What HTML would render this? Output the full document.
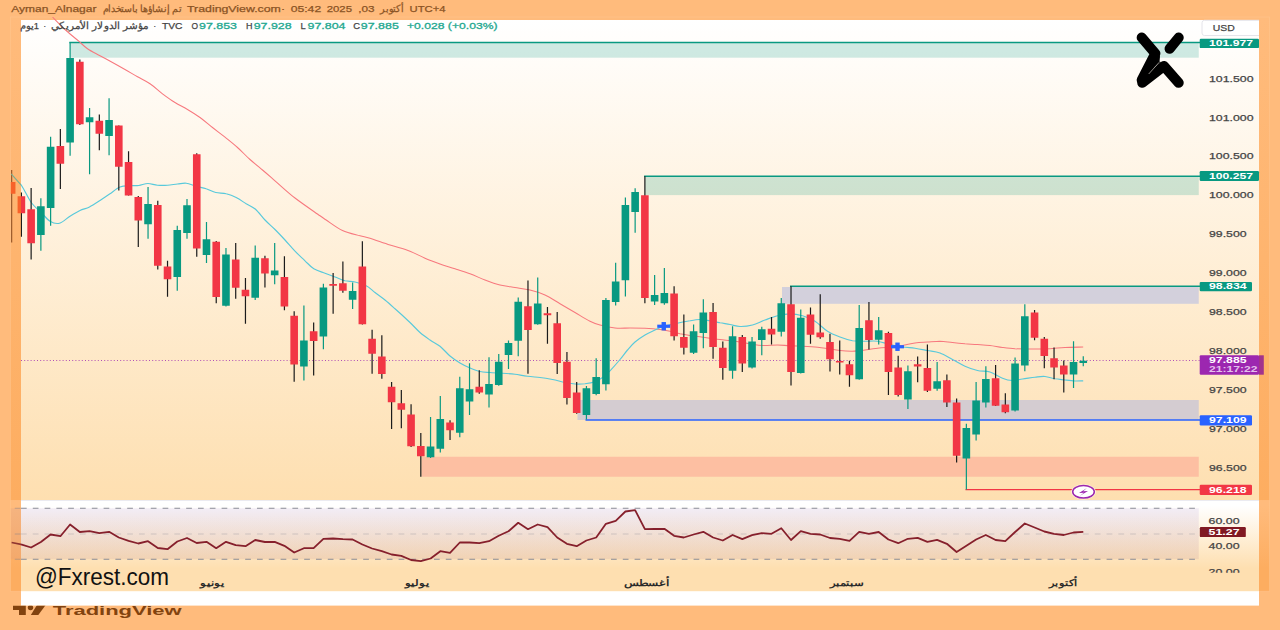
<!DOCTYPE html>
<html lang="ar"><head><meta charset="utf-8"><title>DXY chart</title>
<style>
html,body{margin:0;padding:0}
body{width:1280px;height:630px;overflow:hidden;background:#FFBB7C;position:relative;font-family:"Liberation Sans",sans-serif}
svg{position:absolute;left:0;top:0;display:block}
text{font-family:"Liberation Sans",sans-serif}
.ax{font-size:9px;fill:#454545;stroke:#454545;stroke-width:0.25px}
.lb{font-size:9px;fill:#fff;font-weight:bold}
.hd{font-size:9.5px;fill:#8a5324;stroke:#8a5324;stroke-width:0.25px}
.lg{font-size:9.5px;fill:#454545;stroke:#454545;stroke-width:0.25px}
.tl{font-size:9.5px;fill:#1fa890;stroke:#1fa890;stroke-width:0.3px}
.mo{font-size:9px;fill:#2a2a2a;font-weight:bold}
</style></head><body>
<svg width="1280" height="630" viewBox="0 0 1280 630">
<defs>
<linearGradient id="gs" x1="0" y1="0" x2="0" y2="1"><stop offset="0" stop-color="#FFBB7C"/><stop offset="1" stop-color="#FDAD60"/></linearGradient>
<linearGradient id="gs2" x1="0" y1="0" x2="0" y2="1"><stop offset="0" stop-color="#FFBB7C"/><stop offset="0.06" stop-color="#FFBB7C"/><stop offset="0.75" stop-color="#FDAD60"/><stop offset="1" stop-color="#FDAD60"/></linearGradient>
<linearGradient id="g1" x1="0" y1="0" x2="0" y2="1"><stop offset="0" stop-color="#FFFFFF"/><stop offset="1" stop-color="#FEDFB0"/></linearGradient>
<linearGradient id="g2" x1="0" y1="0" x2="0" y2="1"><stop offset="0" stop-color="#FFFFFF"/><stop offset="0.06" stop-color="#FFFFFF"/><stop offset="0.75" stop-color="#FEDFB0"/><stop offset="1" stop-color="#FEDFB0"/></linearGradient>
<linearGradient id="gb" x1="0" y1="0" x2="0" y2="1"><stop offset="0" stop-color="#7E57C2" stop-opacity="0.10"/><stop offset="1" stop-color="#B07A8A" stop-opacity="0.16"/></linearGradient>
<clipPath id="cw"><rect x="21" y="17" width="1238" height="574.2"/></clipPath>
<clipPath id="cl"><rect x="10.8" y="17" width="10.2" height="574.2"/></clipPath>
<clipPath id="cb"><rect x="0" y="605.7" width="300" height="24"/></clipPath>
<clipPath id="cr"><rect x="1208" y="500" width="51" height="72.7"/></clipPath>
</defs>

<rect x="10.5" y="17" width="1259" height="483.2" fill="url(#gs)"/>
<rect x="10.5" y="500.2" width="1259" height="91" fill="url(#gs2)"/>
<rect x="10.5" y="17" width="1259" height="574.2" fill="none" stroke="#ffd2a4" stroke-opacity="0.35" stroke-width="0.8"/>
<rect x="21" y="20" width="1238" height="585.6" fill="#fff"/>
<rect x="21" y="20" width="1238" height="480.2" fill="url(#g1)"/>
<rect x="21" y="500.2" width="1238" height="91" fill="url(#g2)"/>
<rect x="21" y="500" width="1238" height="0.8" fill="#e6e6ee"/>
<rect x="70.1" y="42.5" width="1128.65" height="15.2" fill="#089981" fill-opacity="0.2"/>
<rect x="644.878" y="176.2" width="553.872" height="18.9" fill="#089981" fill-opacity="0.2"/>
<rect x="782" y="287" width="416.75" height="16.8" fill="#D3D0DC"/>
<rect x="577.5" y="400" width="621.25" height="20" fill="#D4CCD1"/>
<rect x="421.5" y="456.75" width="777.25" height="20" fill="#FDBFA2"/>
<line x1="69.3" y1="42.5" x2="1200" y2="42.5" stroke="#089981" stroke-width="1.5"/>
<line x1="644.0780000000001" y1="176.2" x2="1200" y2="176.2" stroke="#089981" stroke-width="1.5"/>
<line x1="790" y1="286.3" x2="1200" y2="286.3" stroke="#089981" stroke-width="1.5"/>
<line x1="585.5" y1="420" x2="1200" y2="420" stroke="#2962FF" stroke-width="1.45"/>
<line x1="965.5" y1="489.6" x2="1200" y2="489.6" stroke="#F23645" stroke-width="1.3"/>
<line x1="21" y1="360.5" x2="1200" y2="360.5" stroke="#9C27B0" stroke-width="1" stroke-dasharray="1 2.2" stroke-opacity="0.8"/>
<g clip-path="url(#cw)" fill="none" stroke-linejoin="round">
<path d="M52.5,17.0 C54.7,19.2 61.1,26.0 65.5,30.0 C69.9,34.0 75.1,38.1 78.8,41.2 C82.4,44.4 84.0,46.3 87.5,48.8 C91.0,51.2 95.8,53.5 100.0,55.8 C104.2,58.0 108.3,60.2 112.5,62.5 C116.7,64.8 120.8,67.1 125.0,69.5 C129.2,71.9 133.3,74.4 137.5,76.8 C141.7,79.1 145.8,80.9 150.0,83.8 C154.2,86.6 158.3,90.6 162.5,93.8 C166.7,96.9 170.8,99.9 175.0,102.5 C179.2,105.1 183.3,107.0 187.5,109.5 C191.7,112.0 195.8,114.5 200.0,117.5 C204.2,120.5 208.3,124.2 212.5,127.5 C216.7,130.8 220.8,133.9 225.0,137.2 C229.2,140.6 233.3,143.8 237.5,147.5 C241.7,151.2 245.8,155.8 250.0,159.5 C254.2,163.2 258.3,166.5 262.5,170.0 C266.7,173.5 269.6,176.1 275.0,180.8 C280.4,185.4 287.5,192.2 295.0,198.0 C302.5,203.8 314.8,212.1 320.0,215.8 C325.2,219.4 322.5,217.5 326.2,220.0 C330.0,222.5 336.9,227.9 342.5,230.5 C348.1,233.1 355.4,234.5 360.0,235.8 C364.6,237.0 365.0,236.7 370.0,238.2 C375.0,239.8 383.3,242.8 390.0,245.0 C396.7,247.2 404.2,249.0 410.0,251.2 C415.8,253.5 420.0,256.1 425.0,258.2 C430.0,260.4 435.0,262.2 440.0,264.0 C445.0,265.8 450.0,267.1 455.0,268.8 C460.0,270.4 465.0,271.9 470.0,273.8 C475.0,275.6 480.0,278.1 485.0,280.0 C490.0,281.9 495.0,283.8 500.0,285.0 C505.0,286.2 510.0,286.7 515.0,287.5 C520.0,288.3 525.0,288.8 530.0,290.0 C535.0,291.2 540.0,292.7 545.0,295.0 C550.0,297.3 555.0,300.8 560.0,303.8 C565.0,306.7 570.0,309.6 575.0,312.5 C580.0,315.4 585.8,319.2 590.0,321.2 C594.2,323.3 595.8,323.9 600.0,325.0 C604.2,326.1 610.0,327.5 615.0,328.0 C620.0,328.5 625.0,328.0 630.0,328.0 C635.0,328.0 640.0,328.0 645.0,328.2 C650.0,328.5 655.8,329.0 660.0,329.5 C664.2,330.0 666.7,330.5 670.0,331.2 C673.3,332.0 676.7,333.0 680.0,333.8 C683.3,334.5 685.8,334.9 690.0,335.5 C694.2,336.1 700.0,336.8 705.0,337.5 C710.0,338.2 715.0,338.9 720.0,339.5 C725.0,340.1 730.0,340.5 735.0,341.2 C740.0,342.0 745.4,343.0 750.0,343.8 C754.6,344.5 757.9,345.3 762.5,345.5 C767.1,345.7 772.9,345.0 777.5,345.0 C782.1,345.0 783.8,345.4 790.0,345.8 C796.2,346.1 806.7,346.2 815.0,347.0 C823.3,347.8 833.8,349.8 840.0,350.5 C846.2,351.2 848.3,351.3 852.5,351.2 C856.7,351.2 860.8,350.5 865.0,350.0 C869.2,349.5 873.3,348.8 877.5,348.2 C881.7,347.8 885.8,347.5 890.0,347.0 C894.2,346.5 898.3,346.2 902.5,345.5 C906.7,344.8 910.8,343.6 915.0,343.0 C919.2,342.4 923.3,342.3 927.5,342.0 C931.7,341.7 935.8,341.2 940.0,341.2 C944.2,341.3 948.3,342.1 952.5,342.5 C956.7,342.9 960.8,343.4 965.0,343.8 C969.2,344.1 973.3,344.2 977.5,344.5 C981.7,344.8 985.8,345.0 990.0,345.5 C994.2,346.0 998.3,347.0 1002.5,347.5 C1006.7,348.0 1010.8,348.5 1015.0,348.8 C1019.2,349.0 1023.3,349.0 1027.5,349.0 C1031.7,349.0 1035.8,349.1 1040.0,349.0 C1044.2,348.9 1048.3,348.8 1052.5,348.5 C1056.7,348.2 1059.9,347.8 1065.0,347.5 C1070.1,347.2 1080.2,347.1 1083.2,347.0" stroke="#F7787E" stroke-width="1.05"/>
<path d="M11.2,173.8 C12.9,175.6 17.9,180.2 21.2,185.0 C24.6,189.8 27.9,197.9 31.2,202.5 C34.6,207.1 38.1,209.4 41.2,212.5 C44.4,215.6 47.0,219.5 50.0,221.2 C53.0,223.0 56.2,224.1 59.5,223.2 C62.8,222.4 66.6,218.4 70.0,216.2 C73.4,214.1 76.8,212.0 80.0,210.5 C83.2,209.0 86.2,208.7 89.5,207.0 C92.8,205.3 96.6,202.7 100.0,200.5 C103.4,198.3 106.7,196.0 110.0,193.8 C113.3,191.5 116.7,188.3 120.0,187.0 C123.3,185.7 126.9,186.0 130.0,185.8 C133.1,185.5 135.8,185.9 138.8,185.5 C141.8,185.1 144.9,183.5 148.0,183.5 C151.1,183.5 154.2,185.0 157.5,185.2 C160.8,185.5 164.2,185.5 167.5,185.2 C170.8,185.0 174.4,184.3 177.5,184.0 C180.6,183.7 183.1,182.9 186.2,183.2 C189.4,183.6 192.9,185.3 196.2,186.2 C199.6,187.2 203.0,187.7 206.2,188.8 C209.5,189.8 212.4,191.7 215.8,192.5 C219.1,193.3 222.8,192.9 226.2,193.8 C229.7,194.6 232.9,195.8 236.2,197.5 C239.6,199.2 243.0,201.8 246.2,203.8 C249.5,205.7 252.4,206.5 255.5,209.2 C258.6,212.0 261.8,216.6 265.0,220.0 C268.2,223.4 271.7,226.2 275.0,229.5 C278.3,232.8 281.7,236.4 285.0,240.0 C288.3,243.6 291.7,247.8 295.0,251.2 C298.3,254.7 301.9,257.8 305.0,260.8 C308.1,263.7 310.4,266.7 313.8,268.8 C317.1,270.8 321.5,271.9 325.0,273.2 C328.5,274.6 331.7,275.8 335.0,277.0 C338.3,278.2 341.7,279.9 345.0,280.8 C348.3,281.6 351.5,281.2 355.0,282.0 C358.5,282.8 362.9,284.0 366.2,285.8 C369.6,287.5 371.9,290.1 375.0,292.5 C378.1,294.9 381.7,297.3 385.0,300.0 C388.3,302.7 390.8,305.0 395.0,308.8 C399.2,312.5 405.8,318.5 410.0,322.5 C414.2,326.5 416.7,329.6 420.0,332.5 C423.3,335.4 426.7,337.7 430.0,340.0 C433.3,342.3 436.7,343.6 440.0,346.2 C443.3,348.9 446.7,353.2 450.0,356.0 C453.3,358.8 456.7,361.0 460.0,363.0 C463.3,365.0 466.7,366.6 470.0,368.0 C473.3,369.4 476.7,370.8 480.0,371.5 C483.3,372.2 486.2,372.2 490.0,372.5 C493.8,372.8 498.3,373.0 502.5,373.2 C506.7,373.5 510.8,373.8 515.0,374.2 C519.2,374.8 523.3,375.7 527.5,376.2 C531.7,376.8 535.8,377.0 540.0,377.5 C544.2,378.0 548.3,378.7 552.5,379.5 C556.7,380.3 561.2,381.8 565.0,382.5 C568.8,383.2 571.7,383.8 575.0,384.0 C578.3,384.2 581.7,384.1 585.0,383.8 C588.3,383.4 592.1,382.8 595.0,381.8 C597.9,380.7 600.0,379.3 602.5,377.5 C605.0,375.7 607.1,373.8 610.0,370.8 C612.9,367.8 617.1,363.0 620.0,359.5 C622.9,356.0 625.0,352.9 627.5,350.0 C630.0,347.1 632.1,344.5 635.0,342.0 C637.9,339.5 641.7,337.0 645.0,335.0 C648.3,333.0 651.9,331.5 655.0,330.0 C658.1,328.5 660.4,327.3 663.8,326.2 C667.1,325.2 670.6,324.7 675.0,323.8 C679.4,322.8 685.8,321.5 690.0,320.8 C694.2,320.0 696.7,319.5 700.0,319.5 C703.3,319.5 706.7,320.2 710.0,320.8 C713.3,321.3 716.7,322.1 720.0,322.8 C723.3,323.4 726.7,323.9 730.0,324.5 C733.3,325.1 736.2,326.4 740.0,326.5 C743.8,326.6 748.3,326.1 752.5,325.0 C756.7,323.9 760.8,321.5 765.0,320.0 C769.2,318.5 773.3,316.8 777.5,315.8 C781.7,314.7 785.8,313.8 790.0,313.8 C794.2,313.8 798.3,314.5 802.5,315.8 C806.7,317.0 810.8,318.7 815.0,321.2 C819.2,323.8 823.3,328.6 827.5,331.2 C831.7,333.9 835.8,335.4 840.0,337.0 C844.2,338.6 848.3,340.0 852.5,340.8 C856.7,341.5 860.8,341.2 865.0,341.2 C869.2,341.3 873.3,340.7 877.5,341.2 C881.7,341.8 885.8,343.5 890.0,344.5 C894.2,345.5 898.3,346.4 902.5,347.0 C906.7,347.6 910.8,347.7 915.0,348.2 C919.2,348.8 923.3,349.7 927.5,350.5 C931.7,351.3 935.8,351.5 940.0,353.0 C944.2,354.5 948.3,357.3 952.5,359.5 C956.7,361.7 960.8,364.4 965.0,366.2 C969.2,368.1 973.3,369.5 977.5,370.5 C981.7,371.5 985.8,370.7 990.0,372.0 C994.2,373.3 998.8,376.8 1002.5,378.2 C1006.2,379.7 1009.2,380.4 1012.5,380.5 C1015.8,380.6 1018.8,379.5 1022.5,379.0 C1026.2,378.5 1031.2,377.7 1035.0,377.2 C1038.8,376.8 1041.7,376.2 1045.0,376.5 C1048.3,376.8 1051.7,378.2 1055.0,378.8 C1058.3,379.3 1061.7,379.6 1065.0,380.0 C1068.3,380.4 1072.0,380.9 1075.0,381.0 C1078.0,381.1 1081.9,380.8 1083.2,380.8" stroke="#58C9DB" stroke-width="1.15"/>
<rect x="11.05" y="170" width="1.2" height="72.50" fill="#1b1b1b"/>
<rect x="7.85" y="182" width="7.6" height="11.75" fill="#F23645"/>
<rect x="20.79" y="192.5" width="1.2" height="44.25" fill="#1b1b1b"/>
<rect x="17.59" y="196.25" width="7.6" height="17.00" fill="#F23645"/>
<rect x="30.53" y="188" width="1.2" height="71.50" fill="#1b1b1b"/>
<rect x="27.33" y="209.25" width="7.6" height="34.00" fill="#F23645"/>
<rect x="40.27" y="198.25" width="1.2" height="52.50" fill="#089981"/>
<rect x="37.07" y="206.25" width="7.6" height="28.75" fill="#089981"/>
<rect x="50.02" y="136.75" width="1.2" height="89.00" fill="#089981"/>
<rect x="46.82" y="146.75" width="7.6" height="61.25" fill="#089981"/>
<rect x="59.76" y="129" width="1.2" height="60.00" fill="#1b1b1b"/>
<rect x="56.56" y="146" width="7.6" height="17.75" fill="#F23645"/>
<rect x="69.50" y="42.5" width="1.2" height="113.25" fill="#089981"/>
<rect x="66.30" y="58" width="7.6" height="84.50" fill="#089981"/>
<rect x="79.24" y="59.5" width="1.2" height="65.50" fill="#1b1b1b"/>
<rect x="76.04" y="61.75" width="7.6" height="62.50" fill="#F23645"/>
<rect x="88.98" y="108" width="1.2" height="66.25" fill="#089981"/>
<rect x="85.78" y="117.25" width="7.6" height="5.00" fill="#089981"/>
<rect x="98.73" y="114.5" width="1.2" height="35.75" fill="#1b1b1b"/>
<rect x="95.53" y="120.75" width="7.6" height="13.00" fill="#F23645"/>
<rect x="108.47" y="98.25" width="1.2" height="57.00" fill="#089981"/>
<rect x="105.27" y="120" width="7.6" height="16.00" fill="#089981"/>
<rect x="118.21" y="125.5" width="1.2" height="65.00" fill="#1b1b1b"/>
<rect x="115.01" y="125.5" width="7.6" height="41.25" fill="#F23645"/>
<rect x="127.95" y="151.25" width="1.2" height="44.25" fill="#1b1b1b"/>
<rect x="124.75" y="162" width="7.6" height="33.50" fill="#F23645"/>
<rect x="137.69" y="196" width="1.2" height="51.00" fill="#1b1b1b"/>
<rect x="134.49" y="197" width="7.6" height="23.50" fill="#F23645"/>
<rect x="147.44" y="187" width="1.2" height="51.75" fill="#089981"/>
<rect x="144.24" y="204" width="7.6" height="20.25" fill="#089981"/>
<rect x="157.18" y="200.75" width="1.2" height="68.75" fill="#1b1b1b"/>
<rect x="153.98" y="205" width="7.6" height="60.75" fill="#F23645"/>
<rect x="166.92" y="260.75" width="1.2" height="36.00" fill="#1b1b1b"/>
<rect x="163.72" y="266.5" width="7.6" height="12.75" fill="#F23645"/>
<rect x="176.66" y="225.75" width="1.2" height="65.00" fill="#089981"/>
<rect x="173.46" y="230" width="7.6" height="47.00" fill="#089981"/>
<rect x="186.40" y="199" width="1.2" height="39.75" fill="#089981"/>
<rect x="183.20" y="205.25" width="7.6" height="27.75" fill="#089981"/>
<rect x="196.15" y="153.25" width="1.2" height="103.50" fill="#1b1b1b"/>
<rect x="192.95" y="154.25" width="7.6" height="94.25" fill="#F23645"/>
<rect x="205.89" y="222" width="1.2" height="41.00" fill="#089981"/>
<rect x="202.69" y="239.25" width="7.6" height="15.75" fill="#089981"/>
<rect x="215.63" y="241" width="1.2" height="62.25" fill="#1b1b1b"/>
<rect x="212.43" y="241.75" width="7.6" height="55.25" fill="#F23645"/>
<rect x="225.37" y="248" width="1.2" height="58.50" fill="#089981"/>
<rect x="222.17" y="254.5" width="7.6" height="51.25" fill="#089981"/>
<rect x="235.11" y="243" width="1.2" height="55.75" fill="#1b1b1b"/>
<rect x="231.91" y="259.5" width="7.6" height="28.25" fill="#F23645"/>
<rect x="244.86" y="278" width="1.2" height="45.75" fill="#1b1b1b"/>
<rect x="241.66" y="289.75" width="7.6" height="6.50" fill="#F23645"/>
<rect x="254.60" y="245.5" width="1.2" height="54.50" fill="#089981"/>
<rect x="251.40" y="257.75" width="7.6" height="40.00" fill="#089981"/>
<rect x="264.34" y="255.75" width="1.2" height="31.75" fill="#1b1b1b"/>
<rect x="261.14" y="258.25" width="7.6" height="15.25" fill="#F23645"/>
<rect x="274.08" y="243" width="1.2" height="41.25" fill="#089981"/>
<rect x="270.88" y="270.5" width="7.6" height="4.75" fill="#089981"/>
<rect x="283.82" y="256.25" width="1.2" height="54.00" fill="#1b1b1b"/>
<rect x="280.62" y="277" width="7.6" height="29.50" fill="#F23645"/>
<rect x="293.57" y="311.25" width="1.2" height="70.50" fill="#1b1b1b"/>
<rect x="290.37" y="315.75" width="7.6" height="48.75" fill="#F23645"/>
<rect x="303.31" y="305.5" width="1.2" height="75.00" fill="#089981"/>
<rect x="300.11" y="340.5" width="7.6" height="26.00" fill="#089981"/>
<rect x="313.05" y="322.5" width="1.2" height="53.00" fill="#1b1b1b"/>
<rect x="309.85" y="331.25" width="7.6" height="9.75" fill="#F23645"/>
<rect x="322.79" y="283.75" width="1.2" height="65.50" fill="#089981"/>
<rect x="319.59" y="287.5" width="7.6" height="49.00" fill="#089981"/>
<rect x="332.53" y="273" width="1.2" height="40.75" fill="#1b1b1b"/>
<rect x="329.33" y="284" width="7.6" height="1.75" fill="#F23645"/>
<rect x="342.28" y="261.5" width="1.2" height="31.25" fill="#1b1b1b"/>
<rect x="339.08" y="283.25" width="7.6" height="7.50" fill="#F23645"/>
<rect x="352.02" y="282.5" width="1.2" height="26.50" fill="#089981"/>
<rect x="348.82" y="291" width="7.6" height="8.75" fill="#089981"/>
<rect x="361.76" y="241.25" width="1.2" height="83.25" fill="#1b1b1b"/>
<rect x="358.56" y="266.5" width="7.6" height="57.75" fill="#F23645"/>
<rect x="371.50" y="329.75" width="1.2" height="44.00" fill="#1b1b1b"/>
<rect x="368.30" y="338.75" width="7.6" height="15.00" fill="#F23645"/>
<rect x="381.24" y="335.25" width="1.2" height="43.50" fill="#1b1b1b"/>
<rect x="378.04" y="356.5" width="7.6" height="17.50" fill="#F23645"/>
<rect x="390.99" y="382" width="1.2" height="47.00" fill="#1b1b1b"/>
<rect x="387.79" y="386.75" width="7.6" height="15.50" fill="#F23645"/>
<rect x="400.73" y="390" width="1.2" height="38.25" fill="#1b1b1b"/>
<rect x="397.53" y="403.25" width="7.6" height="6.50" fill="#F23645"/>
<rect x="410.47" y="404.25" width="1.2" height="42.75" fill="#1b1b1b"/>
<rect x="407.27" y="414.5" width="7.6" height="31.75" fill="#F23645"/>
<rect x="420.21" y="433" width="1.2" height="43.75" fill="#1b1b1b"/>
<rect x="417.01" y="446" width="7.6" height="10.25" fill="#F23645"/>
<rect x="429.95" y="417" width="1.2" height="41.00" fill="#089981"/>
<rect x="426.75" y="446.5" width="7.6" height="10.75" fill="#089981"/>
<rect x="439.70" y="396" width="1.2" height="56.50" fill="#089981"/>
<rect x="436.50" y="419" width="7.6" height="29.75" fill="#089981"/>
<rect x="449.44" y="420.25" width="1.2" height="19.75" fill="#1b1b1b"/>
<rect x="446.24" y="422.5" width="7.6" height="7.75" fill="#F23645"/>
<rect x="459.18" y="376.75" width="1.2" height="60.50" fill="#089981"/>
<rect x="455.98" y="388.25" width="7.6" height="44.50" fill="#089981"/>
<rect x="468.92" y="363.25" width="1.2" height="51.75" fill="#089981"/>
<rect x="465.72" y="389.25" width="7.6" height="12.25" fill="#089981"/>
<rect x="478.66" y="370.25" width="1.2" height="23.50" fill="#1b1b1b"/>
<rect x="475.46" y="386.75" width="7.6" height="5.75" fill="#F23645"/>
<rect x="488.41" y="357.25" width="1.2" height="50.25" fill="#089981"/>
<rect x="485.21" y="384" width="7.6" height="10.50" fill="#089981"/>
<rect x="498.15" y="354" width="1.2" height="31.75" fill="#089981"/>
<rect x="494.95" y="361.75" width="7.6" height="23.25" fill="#089981"/>
<rect x="507.89" y="340.5" width="1.2" height="28.50" fill="#089981"/>
<rect x="504.69" y="343" width="7.6" height="12.00" fill="#089981"/>
<rect x="517.63" y="297.5" width="1.2" height="58.75" fill="#089981"/>
<rect x="514.43" y="301.75" width="7.6" height="39.00" fill="#089981"/>
<rect x="527.37" y="280.5" width="1.2" height="93.25" fill="#1b1b1b"/>
<rect x="524.17" y="306.25" width="7.6" height="23.75" fill="#F23645"/>
<rect x="537.12" y="277.5" width="1.2" height="47.25" fill="#089981"/>
<rect x="533.92" y="303.5" width="7.6" height="20.75" fill="#089981"/>
<rect x="546.86" y="307" width="1.2" height="36.75" fill="#1b1b1b"/>
<rect x="543.66" y="313.25" width="7.6" height="2.00" fill="#F23645"/>
<rect x="556.60" y="312" width="1.2" height="62.00" fill="#1b1b1b"/>
<rect x="553.40" y="323.25" width="7.6" height="39.75" fill="#F23645"/>
<rect x="566.34" y="352" width="1.2" height="52.50" fill="#1b1b1b"/>
<rect x="563.14" y="361.75" width="7.6" height="36.25" fill="#F23645"/>
<rect x="576.08" y="382" width="1.2" height="31.75" fill="#1b1b1b"/>
<rect x="572.88" y="392.5" width="7.6" height="20.50" fill="#F23645"/>
<rect x="585.83" y="386" width="1.2" height="33.50" fill="#089981"/>
<rect x="582.63" y="388.25" width="7.6" height="26.75" fill="#089981"/>
<rect x="595.57" y="358.25" width="1.2" height="37.00" fill="#089981"/>
<rect x="592.37" y="377" width="7.6" height="17.00" fill="#089981"/>
<rect x="605.31" y="298" width="1.2" height="92.50" fill="#089981"/>
<rect x="602.11" y="300" width="7.6" height="84.25" fill="#089981"/>
<rect x="615.05" y="262.75" width="1.2" height="42.75" fill="#089981"/>
<rect x="611.85" y="281.5" width="7.6" height="20.50" fill="#089981"/>
<rect x="624.79" y="197.5" width="1.2" height="99.00" fill="#089981"/>
<rect x="621.59" y="205" width="7.6" height="75.25" fill="#089981"/>
<rect x="634.54" y="188.25" width="1.2" height="44.50" fill="#089981"/>
<rect x="631.34" y="192" width="7.6" height="20.00" fill="#089981"/>
<rect x="644.28" y="176.25" width="1.2" height="127.00" fill="#1b1b1b"/>
<rect x="641.08" y="195.25" width="7.6" height="102.75" fill="#F23645"/>
<rect x="654.02" y="275" width="1.2" height="30.00" fill="#089981"/>
<rect x="650.82" y="295" width="7.6" height="6.50" fill="#089981"/>
<rect x="663.76" y="268" width="1.2" height="36.75" fill="#089981"/>
<rect x="660.56" y="293" width="7.6" height="10.25" fill="#089981"/>
<rect x="673.50" y="286.25" width="1.2" height="54.25" fill="#1b1b1b"/>
<rect x="670.30" y="293.5" width="7.6" height="42.75" fill="#F23645"/>
<rect x="683.25" y="314.5" width="1.2" height="40.00" fill="#1b1b1b"/>
<rect x="680.05" y="337" width="7.6" height="10.75" fill="#F23645"/>
<rect x="692.99" y="324.5" width="1.2" height="29.50" fill="#089981"/>
<rect x="689.79" y="331.25" width="7.6" height="21.50" fill="#089981"/>
<rect x="702.73" y="299.25" width="1.2" height="49.00" fill="#089981"/>
<rect x="699.53" y="312.5" width="7.6" height="20.50" fill="#089981"/>
<rect x="712.47" y="303" width="1.2" height="55.75" fill="#1b1b1b"/>
<rect x="709.27" y="312" width="7.6" height="35.00" fill="#F23645"/>
<rect x="722.21" y="341.5" width="1.2" height="38.25" fill="#1b1b1b"/>
<rect x="719.01" y="347.75" width="7.6" height="20.25" fill="#F23645"/>
<rect x="731.96" y="326.25" width="1.2" height="52.50" fill="#089981"/>
<rect x="728.76" y="336.25" width="7.6" height="34.50" fill="#089981"/>
<rect x="741.70" y="335" width="1.2" height="37.00" fill="#1b1b1b"/>
<rect x="738.50" y="337" width="7.6" height="26.50" fill="#F23645"/>
<rect x="751.44" y="337" width="1.2" height="31.50" fill="#089981"/>
<rect x="748.24" y="341.5" width="7.6" height="26.00" fill="#089981"/>
<rect x="761.18" y="326.75" width="1.2" height="28.50" fill="#089981"/>
<rect x="757.98" y="329.25" width="7.6" height="10.75" fill="#089981"/>
<rect x="770.92" y="317" width="1.2" height="27.50" fill="#1b1b1b"/>
<rect x="767.72" y="328.75" width="7.6" height="5.75" fill="#F23645"/>
<rect x="780.67" y="298" width="1.2" height="38.50" fill="#089981"/>
<rect x="777.47" y="303.25" width="7.6" height="28.50" fill="#089981"/>
<rect x="790.41" y="286.25" width="1.2" height="99.25" fill="#1b1b1b"/>
<rect x="787.21" y="304.25" width="7.6" height="67.75" fill="#F23645"/>
<rect x="800.15" y="309.5" width="1.2" height="64.00" fill="#089981"/>
<rect x="796.95" y="317.75" width="7.6" height="55.25" fill="#089981"/>
<rect x="809.89" y="307.5" width="1.2" height="36.25" fill="#1b1b1b"/>
<rect x="806.69" y="314.5" width="7.6" height="20.25" fill="#F23645"/>
<rect x="819.63" y="294.25" width="1.2" height="44.50" fill="#1b1b1b"/>
<rect x="816.43" y="332.5" width="7.6" height="4.75" fill="#F23645"/>
<rect x="829.38" y="333.75" width="1.2" height="37.75" fill="#1b1b1b"/>
<rect x="826.18" y="342" width="7.6" height="17.25" fill="#F23645"/>
<rect x="839.12" y="340.5" width="1.2" height="34.00" fill="#1b1b1b"/>
<rect x="835.92" y="361" width="7.6" height="1.50" fill="#F23645"/>
<rect x="848.86" y="360.75" width="1.2" height="26.00" fill="#1b1b1b"/>
<rect x="845.66" y="364.25" width="7.6" height="11.00" fill="#F23645"/>
<rect x="858.60" y="305" width="1.2" height="74.75" fill="#089981"/>
<rect x="855.40" y="328" width="7.6" height="51.25" fill="#089981"/>
<rect x="868.34" y="302" width="1.2" height="47.50" fill="#1b1b1b"/>
<rect x="865.14" y="320.25" width="7.6" height="19.75" fill="#F23645"/>
<rect x="878.09" y="317" width="1.2" height="27.50" fill="#089981"/>
<rect x="874.89" y="330.25" width="7.6" height="9.50" fill="#089981"/>
<rect x="887.83" y="331.75" width="1.2" height="63.25" fill="#1b1b1b"/>
<rect x="884.63" y="333" width="7.6" height="39.00" fill="#F23645"/>
<rect x="897.57" y="355.75" width="1.2" height="40.75" fill="#1b1b1b"/>
<rect x="894.37" y="367.5" width="7.6" height="27.50" fill="#F23645"/>
<rect x="907.31" y="365.5" width="1.2" height="43.50" fill="#089981"/>
<rect x="904.11" y="371.25" width="7.6" height="28.25" fill="#089981"/>
<rect x="917.05" y="356.5" width="1.2" height="25.75" fill="#1b1b1b"/>
<rect x="913.85" y="364.25" width="7.6" height="2.25" fill="#F23645"/>
<rect x="926.80" y="344.5" width="1.2" height="47.50" fill="#1b1b1b"/>
<rect x="923.60" y="368" width="7.6" height="22.75" fill="#F23645"/>
<rect x="936.54" y="362" width="1.2" height="28.75" fill="#089981"/>
<rect x="933.34" y="381.25" width="7.6" height="7.50" fill="#089981"/>
<rect x="946.28" y="374.5" width="1.2" height="32.50" fill="#1b1b1b"/>
<rect x="943.08" y="380.25" width="7.6" height="22.25" fill="#F23645"/>
<rect x="956.02" y="398.5" width="1.2" height="64.00" fill="#1b1b1b"/>
<rect x="952.82" y="402.5" width="7.6" height="53.25" fill="#F23645"/>
<rect x="965.76" y="423.75" width="1.2" height="65.75" fill="#089981"/>
<rect x="962.56" y="428" width="7.6" height="30.50" fill="#089981"/>
<rect x="975.51" y="382" width="1.2" height="58.50" fill="#089981"/>
<rect x="972.31" y="400.5" width="7.6" height="34.00" fill="#089981"/>
<rect x="985.25" y="366.25" width="1.2" height="41.25" fill="#089981"/>
<rect x="982.05" y="379" width="7.6" height="23.50" fill="#089981"/>
<rect x="994.99" y="365" width="1.2" height="41.00" fill="#1b1b1b"/>
<rect x="991.79" y="378.25" width="7.6" height="27.50" fill="#F23645"/>
<rect x="1004.73" y="393.25" width="1.2" height="20.00" fill="#1b1b1b"/>
<rect x="1001.53" y="404.5" width="7.6" height="7.75" fill="#F23645"/>
<rect x="1014.47" y="357.5" width="1.2" height="54.00" fill="#089981"/>
<rect x="1011.27" y="363.5" width="7.6" height="47.00" fill="#089981"/>
<rect x="1024.22" y="304.25" width="1.2" height="67.00" fill="#089981"/>
<rect x="1021.02" y="316.25" width="7.6" height="49.25" fill="#089981"/>
<rect x="1033.96" y="310" width="1.2" height="30.25" fill="#1b1b1b"/>
<rect x="1030.76" y="312.5" width="7.6" height="25.25" fill="#F23645"/>
<rect x="1043.70" y="337" width="1.2" height="31.25" fill="#1b1b1b"/>
<rect x="1040.50" y="338.75" width="7.6" height="17.25" fill="#F23645"/>
<rect x="1053.44" y="347.5" width="1.2" height="31.75" fill="#1b1b1b"/>
<rect x="1050.24" y="358.25" width="7.6" height="9.25" fill="#F23645"/>
<rect x="1063.18" y="360.5" width="1.2" height="32.00" fill="#1b1b1b"/>
<rect x="1059.98" y="365.5" width="7.6" height="9.00" fill="#F23645"/>
<rect x="1072.93" y="341.25" width="1.2" height="46.75" fill="#089981"/>
<rect x="1069.73" y="362" width="7.6" height="12.50" fill="#089981"/>
<rect x="1082.67" y="356.25" width="1.2" height="10.00" fill="#089981"/>
<rect x="1079.47" y="360.75" width="7.6" height="2.25" fill="#089981"/>
</g>
<g clip-path="url(#cl)">
<rect x="11.05" y="170" width="1.2" height="72.50" fill="#9a5a2a"/>
<rect x="7.85" y="182" width="7.6" height="11.75" fill="#F7622A"/>
<rect x="20.79" y="192.5" width="1.2" height="44.25" fill="#9a5a2a"/>
<rect x="17.59" y="196.25" width="7.6" height="17.00" fill="#F7622A"/>
<path d="M11.2,173.8 L21.2,185.0 L31.2,202.5" stroke="#7FAE8E" stroke-width="1.2" fill="none"/>
<path d="M11.6,542.5 L21.4,544.5 L31.1,547.5" stroke="#8a2a20" stroke-width="1.6" fill="none"/>
</g>
<rect x="657.25" y="324.65" width="13" height="3.2" fill="#2962FF"/><rect x="661.55" y="322.05" width="4.4" height="8.4" fill="#2962FF"/>
<rect x="891.0" y="345.15" width="13" height="3.2" fill="#2962FF"/><rect x="895.3" y="342.55" width="4.4" height="8.4" fill="#2962FF"/>
<ellipse cx="1083.5" cy="491.8" rx="12.3" ry="7.6" fill="#fff4dc"/>
<ellipse cx="1083.5" cy="491.8" rx="10.8" ry="6.3" fill="#fff" stroke="#9C27B0" stroke-width="1.5"/>
<path d="M1087,488.1 L1079,492.9 L1083.9,492.7 L1080,495.7 L1088,491 L1083.1,491.2 Z" fill="#9C27B0"/>
<rect x="10.8" y="508.25" width="10.2" height="51" fill="#b080a0" fill-opacity="0.13"/>
<line x1="10.8" y1="508.25" x2="21" y2="508.25" stroke="#9a8a86" stroke-width="1" stroke-dasharray="5.7 6.1" stroke-dashoffset="-4" stroke-opacity="0.6"/>
<line x1="10.8" y1="534" x2="21" y2="534" stroke="#9a8a86" stroke-width="1" stroke-dasharray="5.7 6.1" stroke-dashoffset="-4" stroke-opacity="0.6"/>
<line x1="10.8" y1="559.25" x2="21" y2="559.25" stroke="#9a8a86" stroke-width="1" stroke-dasharray="5.7 6.1" stroke-dashoffset="-4" stroke-opacity="0.6"/>
<rect x="21" y="508.25" width="1177.75" height="51" fill="url(#gb)"/>
<line x1="21" y1="508.25" x2="1198.75" y2="508.25" stroke="#8a8c96" stroke-width="1" stroke-dasharray="5.7 6.1" stroke-opacity="1"/>
<line x1="21" y1="534" x2="1198.75" y2="534" stroke="#8a8c96" stroke-width="1" stroke-dasharray="5.7 6.1" stroke-opacity="0.35"/>
<line x1="21" y1="559.25" x2="1198.75" y2="559.25" stroke="#8a8c96" stroke-width="1" stroke-dasharray="5.7 6.1" stroke-opacity="1"/>
<path d="M21.0,544.4 L31.1,547.5 L40.9,542.0 L50.6,534.5 L60.4,536.2 L70.1,524.5 L79.8,532.0 L89.6,531.2 L99.3,533.2 L109.1,531.8 L118.8,537.5 L128.6,540.8 L138.3,543.5 L148.0,541.2 L157.8,548.0 L167.5,549.2 L177.3,541.5 L187.0,538.0 L196.7,543.0 L206.5,541.8 L216.2,548.2 L226.0,541.8 L235.7,545.2 L245.5,546.2 L255.2,540.0 L264.9,542.0 L274.7,541.8 L284.4,545.8 L294.2,552.5 L303.9,548.2 L313.6,548.2 L323.4,538.8 L333.1,538.5 L342.9,539.2 L352.6,539.5 L362.4,544.5 L372.1,548.5 L381.8,551.2 L391.6,554.5 L401.3,555.8 L411.1,560.0 L420.8,561.2 L430.6,558.5 L440.3,551.2 L450.0,552.8 L459.8,542.5 L469.5,542.5 L479.3,543.2 L489.0,541.2 L498.7,535.8 L508.5,531.2 L518.2,522.8 L528.0,529.2 L537.7,524.5 L547.5,527.2 L557.2,537.5 L566.9,543.8 L576.7,546.2 L586.4,540.5 L596.2,537.5 L605.9,523.8 L615.7,520.8 L625.4,511.5 L635.1,510.2 L644.9,529.2 L654.6,529.0 L664.4,528.8 L674.1,535.8 L683.8,537.5 L693.6,534.5 L703.3,531.8 L713.1,537.5 L722.8,540.5 L732.6,535.0 L742.3,539.2 L752.0,535.2 L761.8,533.2 L771.5,533.8 L781.3,528.2 L791.0,540.0 L800.8,531.2 L810.5,533.8 L820.2,534.5 L830.0,538.0 L839.7,538.8 L849.5,540.8 L859.2,531.8 L868.9,533.8 L878.7,532.0 L888.4,539.5 L898.2,543.2 L907.9,538.8 L917.7,537.8 L927.4,541.8 L937.1,539.8 L946.9,543.8 L956.6,552.0 L966.4,545.8 L976.1,539.5 L985.8,535.0 L995.6,540.0 L1005.3,541.2 L1015.1,532.0 L1024.8,523.5 L1034.6,527.5 L1044.3,531.5 L1054.0,533.8 L1063.8,535.0 L1073.5,532.5 L1083.3,531.8" stroke="#86202c" stroke-width="1.8" fill="none" stroke-linejoin="round"/>
<text x="1209" y="81.6" textLength="44.5" lengthAdjust="spacingAndGlyphs" class="ax" >101.500</text>
<text x="1209" y="120.5" textLength="44.5" lengthAdjust="spacingAndGlyphs" class="ax" >101.000</text>
<text x="1209" y="159.4" textLength="44.5" lengthAdjust="spacingAndGlyphs" class="ax" >100.500</text>
<text x="1209" y="198.3" textLength="44.5" lengthAdjust="spacingAndGlyphs" class="ax" >100.000</text>
<text x="1209" y="237.2" textLength="37.6" lengthAdjust="spacingAndGlyphs" class="ax" >99.500</text>
<text x="1209" y="276.1" textLength="37.6" lengthAdjust="spacingAndGlyphs" class="ax" >99.000</text>
<text x="1209" y="315.0" textLength="37.6" lengthAdjust="spacingAndGlyphs" class="ax" >98.500</text>
<text x="1209" y="353.9" textLength="37.6" lengthAdjust="spacingAndGlyphs" class="ax" >98.000</text>
<text x="1209" y="392.8" textLength="37.6" lengthAdjust="spacingAndGlyphs" class="ax" >97.500</text>
<text x="1209" y="431.7" textLength="37.6" lengthAdjust="spacingAndGlyphs" class="ax" >97.000</text>
<text x="1209" y="470.6" textLength="37.6" lengthAdjust="spacingAndGlyphs" class="ax" >96.500</text>
<g clip-path="url(#cr)">
<text x="1208.6" y="523.5" textLength="31" lengthAdjust="spacingAndGlyphs" class="ax" >60.00</text>
<text x="1208.6" y="549.0" textLength="31" lengthAdjust="spacingAndGlyphs" class="ax" >40.00</text>
<text x="1208.6" y="574.5" textLength="31" lengthAdjust="spacingAndGlyphs" class="ax" >20.00</text>
</g>
<rect x="1202" y="20.3" width="62" height="15.2" rx="2.5" fill="#fff" stroke="#e4e4ea" stroke-width="1" clip-path="url(#cw)"/>
<text x="1212.8" y="31.4" textLength="22" lengthAdjust="spacingAndGlyphs" class="ax" style="font-size:9.5px">USD</text>
<rect x="1199.7" y="38.75" width="59.299999999999955" height="9.350000000000001" rx="1.2" fill="#089981"/>
<text x="1209" y="46.025" textLength="44" lengthAdjust="spacingAndGlyphs" class="lb" >101.977</text>
<rect x="1199.7" y="171" width="59.299999999999955" height="10" rx="1.2" fill="#089981"/>
<text x="1209" y="178.6" textLength="44" lengthAdjust="spacingAndGlyphs" class="lb" >100.257</text>
<rect x="1199.7" y="281.9" width="52.299999999999955" height="9.400000000000034" rx="1.2" fill="#089981"/>
<text x="1209" y="289.20000000000005" textLength="37.6" lengthAdjust="spacingAndGlyphs" class="lb" >98.834</text>
<rect x="1199.7" y="415.3" width="52.299999999999955" height="10.099999999999966" rx="1.2" fill="#2962FF"/>
<text x="1209" y="422.95000000000005" textLength="37.6" lengthAdjust="spacingAndGlyphs" class="lb" >97.109</text>
<rect x="1199.7" y="484.8" width="52.299999999999955" height="10.199999999999989" rx="1.2" fill="#F23645"/>
<text x="1209" y="492.5" textLength="37.6" lengthAdjust="spacingAndGlyphs" class="lb" >96.218</text>
<rect x="1199.7" y="355.3" width="59.3" height="19.4" rx="1.2" fill="#9C27B0"/>
<rect x="1259" y="355.3" width="4.8" height="19.4" fill="#A2338C"/>
<text x="1209" y="363.2" textLength="37.6" lengthAdjust="spacingAndGlyphs" class="lb" >97.885</text>
<text x="1209" y="372.0" textLength="48.5" lengthAdjust="spacingAndGlyphs" class="lb" style="fill:#e3bfec">21:17:22</text>
<rect x="1199.8" y="527.1" width="46" height="10" rx="1.2" fill="#801922"/>
<text x="1208.6" y="534.8" textLength="31" lengthAdjust="spacingAndGlyphs" class="lb" >51.27</text>
<text x="212.5" y="585.6" text-anchor="middle" class="mo" direction="rtl" textLength="25" lengthAdjust="spacingAndGlyphs">يونيو</text>
<text x="417" y="585.6" text-anchor="middle" class="mo" direction="rtl" textLength="25" lengthAdjust="spacingAndGlyphs">يوليو</text>
<text x="647" y="585.6" text-anchor="middle" class="mo" direction="rtl" textLength="46" lengthAdjust="spacingAndGlyphs">أغسطس</text>
<text x="847" y="585.6" text-anchor="middle" class="mo" direction="rtl" textLength="35" lengthAdjust="spacingAndGlyphs">سبتمبر</text>
<text x="1063.6" y="585.6" text-anchor="middle" class="mo" direction="rtl" textLength="29" lengthAdjust="spacingAndGlyphs">أكتوبر</text>
<text x="11.2" y="12.0" textLength="85.3" lengthAdjust="spacingAndGlyphs" class="hd" >Ayman_Alnagar</text>
<text x="142" y="12.0" text-anchor="middle" class="hd" direction="rtl" textLength="79" lengthAdjust="spacingAndGlyphs">تم إنشاؤها باستخدام</text>
<text x="187" y="12.0" textLength="98" lengthAdjust="spacingAndGlyphs" class="hd" >TradingView.com·</text>
<text x="290.7" y="12.0" textLength="30.5" lengthAdjust="spacingAndGlyphs" class="hd" >05:42</text>
<text x="326.7" y="12.0" textLength="25.3" lengthAdjust="spacingAndGlyphs" class="hd" >2025</text>
<text x="358.2" y="12.0" textLength="16.3" lengthAdjust="spacingAndGlyphs" class="hd" >,03</text>
<text x="392" y="12.0" text-anchor="middle" class="hd" direction="rtl" textLength="23.5" lengthAdjust="spacingAndGlyphs">أكتوبر</text>
<text x="409.5" y="12.0" textLength="36" lengthAdjust="spacingAndGlyphs" class="hd" >UTC+4</text>
<text x="29.5" y="29.1" text-anchor="middle" class="lg" direction="rtl" textLength="19" lengthAdjust="spacingAndGlyphs">1يوم</text>
<text x="43.5" y="29.1" textLength="2.5" lengthAdjust="spacingAndGlyphs" class="lg" >·</text>
<text x="99.5" y="29.1" text-anchor="middle" class="lg" direction="rtl" textLength="97" lengthAdjust="spacingAndGlyphs">مؤشر الدولار الأمريكي</text>
<text x="153.5" y="29.1" textLength="2.5" lengthAdjust="spacingAndGlyphs" class="lg" >·</text>
<text x="162" y="29.1" textLength="20.5" lengthAdjust="spacingAndGlyphs" class="lg" >TVC</text>
<text x="191.5" y="29.1" textLength="6.5" lengthAdjust="spacingAndGlyphs" class="lg" >O</text>
<text x="199" y="29.1" textLength="38" lengthAdjust="spacingAndGlyphs" class="tl" >97.853</text>
<text x="246" y="29.1" textLength="6.5" lengthAdjust="spacingAndGlyphs" class="lg" >H</text>
<text x="253.7" y="29.1" textLength="38" lengthAdjust="spacingAndGlyphs" class="tl" >97.928</text>
<text x="300.5" y="29.1" textLength="5.2" lengthAdjust="spacingAndGlyphs" class="lg" >L</text>
<text x="307.5" y="29.1" textLength="38" lengthAdjust="spacingAndGlyphs" class="tl" >97.804</text>
<text x="353.2" y="29.1" textLength="6.8" lengthAdjust="spacingAndGlyphs" class="lg" >C</text>
<text x="360.8" y="29.1" textLength="38" lengthAdjust="spacingAndGlyphs" class="tl" >97.885</text>
<text x="407" y="29.1" textLength="90.5" lengthAdjust="spacingAndGlyphs" class="tl" >+0.028 (+0.03%)</text>
<g fill="none" stroke="#000" stroke-width="10.1" stroke-linecap="round" stroke-linejoin="round"><path d="M1141.7,37.6 L1155.3,53.6 L1141.7,80"/><path d="M1142.3,82.8 L1164,66.1 L1178.7,82.8"/><path d="M1178.7,37.6 L1169.6,48.8"/></g>
<path d="M1157,53 L1160,56.6 L1159.5,61.8 L1161.3,62 L1152.9,68.3 L1150,66 Z" fill="#000"/>
<path d="M1159.3,62.2 L1148.7,74" stroke="#f4ece4" stroke-width="0.6" fill="none"/>
<text x="35" y="584.6" textLength="134" lengthAdjust="spacingAndGlyphs" style="font-size:23.5px;fill:#111">@Fxrest.com</text>
<g fill="#82430f" clip-path="url(#cb)"><path d="M13,605 H25.8 V615 H19 V609.9 H13 Z"/><circle cx="30.5" cy="607.5" r="2.7"/><path d="M37,605 H45.7 L38.3,615 H30.8 Z"/></g>
<text x="52.7" y="615" textLength="129" lengthAdjust="spacingAndGlyphs" style="font-size:12.5px;font-weight:bold;fill:#82430f">TradingView</text>
</svg></body></html>
